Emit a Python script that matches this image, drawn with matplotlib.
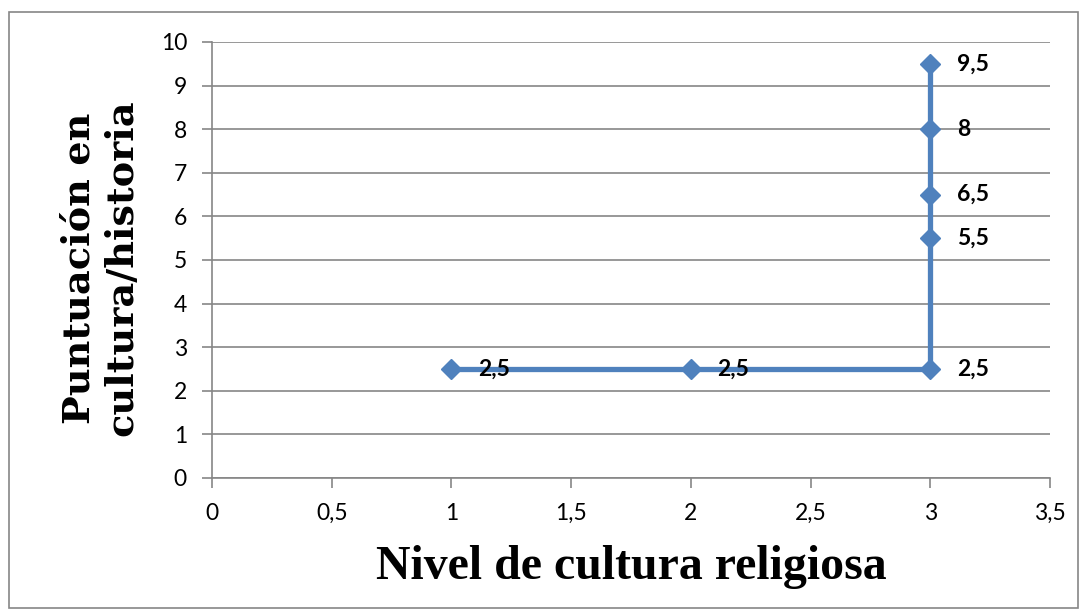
import matplotlib
matplotlib.use("Agg")
import matplotlib.pyplot as plt
from matplotlib.patches import Rectangle

x_vals = [1, 2, 3, 3, 3, 3, 3]
y_vals = [2.5, 2.5, 2.5, 5.5, 6.5, 8, 9.5]
point_labels = ["2,5", "2,5", "2,5", "5,5", "6,5", "8", "9,5"]
x_ticks = [0, 0.5, 1, 1.5, 2, 2.5, 3, 3.5]
x_tick_labels = ["0", "0,5", "1", "1,5", "2", "2,5", "3", "3,5"]
y_ticks = list(range(0, 11))
y_tick_labels = [str(v) for v in y_ticks]
x_title = "Nivel de cultura religiosa"
y_title = "Puntuación en\ncultura/historia"

W, H = 1083, 616
fig = plt.figure(figsize=(W / 100, H / 100), dpi=100)
fig.patch.set_facecolor("white")

# outer chart border
fig.patches.append(Rectangle((9 / W, 1 - 608 / H), (1078 - 9) / W, (608 - 12) / H,
                             transform=fig.transFigure, fill=False,
                             edgecolor="#868686", linewidth=1.2))

ax = fig.add_axes([212 / W, 1 - 478 / H, (1050 - 212) / W, (478 - 42) / H])
grid_c = "#868686"
tick_font = "Lato"
fs = 16.5

ax.set_xlim(0, 3.5)
ax.set_ylim(0, 10)
ax.set_xticks(x_ticks)
ax.set_xticklabels(x_tick_labels, fontfamily=tick_font, fontsize=fs)
ax.set_yticks(y_ticks)
ax.set_yticklabels(y_tick_labels, fontfamily=tick_font, fontsize=fs)
ax.tick_params(axis="x", direction="out", length=7, width=1.2, color=grid_c, pad=11)
ax.tick_params(axis="y", direction="out", length=7, width=1.2, color=grid_c, pad=11)

ax.yaxis.grid(True, color=grid_c, linewidth=1.2)
ax.set_axisbelow(True)
for s in ["top", "right"]:
    ax.spines[s].set_visible(False)
for s in ["left", "bottom"]:
    ax.spines[s].set_color(grid_c)
    ax.spines[s].set_linewidth(1.2)

ax.plot(x_vals, y_vals, color="#4F81BD", linewidth=3.8, marker="D",
        markersize=10, markerfacecolor="#4F81BD", markeredgecolor="#4F81BD",
        zorder=3, clip_on=False)

for xv, yv, lab in zip(x_vals, y_vals, point_labels):
    ax.annotate(lab, (xv, yv), xytext=(19, 0), textcoords="offset points",
                ha="left", va="center", fontfamily=tick_font, fontweight="bold",
                fontsize=fs, color="black", zorder=4)

fig.text((375 + 888) / 2 / W, 1 - 567 / H, x_title, ha="center", va="center",
         fontfamily="Liberation Serif", fontweight="bold", fontsize=34.5)
fig.text(100 / W, 1 - 268 / H, y_title, ha="center", va="center", rotation=90,
         fontfamily="DejaVu Serif", fontweight="bold", fontsize=27.5,
         linespacing=1.2, multialignment="center")

fig.savefig("out.png", dpi=100)
